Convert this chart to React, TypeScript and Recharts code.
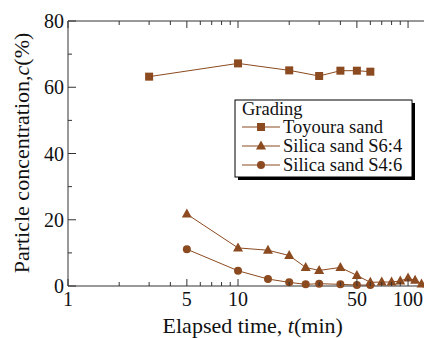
import React from 'react';
import { LineChart, Line, XAxis, YAxis } from 'recharts';

const toyouraTime = [3, 10, 20, 30, 40, 50, 60];
const toyouraConc = [63.2, 67.2, 65.1, 63.4, 65.0, 65.0, 64.7];
const s64Time = [5, 10, 15, 20, 25, 30, 40, 50, 60, 70, 80, 90, 100, 110, 120, 130];
const s64Conc = [21.7, 11.5, 10.8, 9.2, 5.6, 4.7, 5.6, 3.2, 1.1, 1.2, 1.2, 1.5, 2.4, 1.7, 0.6, 0.6];
const s46Time = [5, 10, 15, 20, 25, 30, 40, 50, 60];
const s46Conc = [11.1, 4.6, 2.1, 1.1, 0.5, 0.7, 0.5, 0.3, 0.3];

const xTicks = [1, 2, 3, 4, 5, 6, 7, 8, 9, 10, 20, 30, 40, 50, 60, 70, 80, 90, 100];
const xLabels = [1, 5, 10, 50, 100];
const yTicks = [0, 10, 20, 30, 40, 50, 60, 70, 80];
const yLabels = [0, 20, 40, 60, 80];

const seriesNames = ['Toyoura sand', 'Silica sand S6:4', 'Silica sand S4:6'];

const toyoura = toyouraTime.map((t, i) => ({ t, c: toyouraConc[i] }));
const s64 = s64Time.map((t, i) => ({ t, c: s64Conc[i] }));
const s46 = s46Time.map((t, i) => ({ t, c: s46Conc[i] }));

const BROWN = '#8B4A1F';
const AXIS = '#333';
const FONT = "'Liberation Serif', 'Times New Roman', serif";
const serif = (size: number) => ({ fontFamily: FONT, fontSize: size });

const W = 440;
const H = 330;
const M = { top: 12, left: 59, right: 9, bottom: 51 };

const BottomTick = (p: any) => {
  const v = p.payload.value;
  const lab = xLabels.includes(v);
  return (
    <g>
      <line x1={p.x} x2={p.x} y1={p.y} y2={p.y - (lab ? 7 : 4)} stroke={AXIS} strokeWidth={1} />
      {lab && (
        <text x={p.x} y={p.y + 20} textAnchor="middle" style={serif(20)} fill="#111">
          {v}
        </text>
      )}
    </g>
  );
};

const TopTick = (p: any) => {
  const v = p.payload.value;
  const lab = xLabels.includes(v);
  return <line x1={p.x} x2={p.x} y1={p.y} y2={p.y + (lab ? 7 : 4)} stroke={AXIS} strokeWidth={1} />;
};

const LeftTick = (p: any) => {
  const v = p.payload.value;
  const lab = yLabels.includes(v);
  return (
    <g>
      <line x1={p.x} x2={p.x + (lab ? 8 : 4)} y1={p.y} y2={p.y} stroke={AXIS} strokeWidth={1} />
      {lab && (
        <text x={p.x - 4} y={p.y} dy="0.35em" textAnchor="end" style={serif(20)} fill="#111">
          {v}
        </text>
      )}
    </g>
  );
};

const RightTick = (p: any) => {
  const v = p.payload.value;
  const lab = yLabels.includes(v);
  return <line x1={p.x} x2={p.x - (lab ? 8 : 4)} y1={p.y} y2={p.y} stroke={AXIS} strokeWidth={1} />;
};

const SquareDot = (p: any) =>
  p.cx == null ? <g key={p.index} /> : (
    <rect key={p.index} x={p.cx - 4} y={p.cy - 4} width={8} height={8} fill={BROWN} />
  );
const TriDot = (p: any) =>
  p.cx == null ? <g key={p.index} /> : (
    <path key={p.index} d={`M${p.cx},${p.cy - 5.5} L${p.cx + 5},${p.cy + 3.5} L${p.cx - 5},${p.cy + 3.5} Z`} fill={BROWN} />
  );
const CircleDot = (p: any) =>
  p.cx == null ? <g key={p.index} /> : <circle key={p.index} cx={p.cx} cy={p.cy} r={4} fill={BROWN} />;

const legendMarker = (i: number, cx: number, cy: number) => {
  if (i === 0) return <rect x={cx - 4} y={cy - 4} width={8} height={8} fill={BROWN} />;
  if (i === 1) return <path d={`M${cx},${cy - 5.5} L${cx + 5},${cy + 3.5} L${cx - 5},${cy + 3.5} Z`} fill={BROWN} />;
  return <circle cx={cx} cy={cy} r={4} fill={BROWN} />;
};

export default function App() {
  const lx = 227;
  const ly = 92;
  const lw = 177;
  const lh = 77;
  return (
    <div style={{ position: 'relative', width: 424, height: H, overflow: 'hidden' }}>
      <LineChart width={W} height={H} margin={M}>
        <XAxis
          dataKey="t"
          type="number"
          scale="log"
          domain={[1, 150]}
          allowDataOverflow
          ticks={xTicks}
          interval={0}
          height={1}
          tickSize={0}
          tickMargin={0}
          tickLine={false}
          tick={BottomTick}
          axisLine={{ stroke: AXIS, strokeWidth: 1 }}
        />
        <XAxis
          xAxisId="top"
          orientation="top"
          dataKey="t"
          type="number"
          scale="log"
          domain={[1, 150]}
          allowDataOverflow
          ticks={xTicks}
          interval={0}
          height={1}
          tickSize={0}
          tickMargin={0}
          tickLine={false}
          tick={TopTick}
          axisLine={{ stroke: AXIS, strokeWidth: 1 }}
        />
        <YAxis
          type="number"
          domain={[0, 80]}
          ticks={yTicks}
          interval={0}
          width={1}
          tickSize={0}
          tickMargin={0}
          tickLine={false}
          tick={LeftTick}
          axisLine={{ stroke: AXIS, strokeWidth: 1 }}
        />
        <YAxis
          yAxisId="right"
          orientation="right"
          type="number"
          domain={[0, 80]}
          ticks={yTicks}
          interval={0}
          width={1}
          tickSize={0}
          tickMargin={0}
          tickLine={false}
          tick={RightTick}
          axisLine={{ stroke: AXIS, strokeWidth: 1 }}
        />
        <Line data={s46} dataKey="c" type="linear" stroke={BROWN} strokeWidth={1} dot={CircleDot} activeDot={false} isAnimationActive={false} />
        <Line data={s64} dataKey="c" type="linear" stroke={BROWN} strokeWidth={1} dot={TriDot} activeDot={false} isAnimationActive={false} />
        <Line data={toyoura} dataKey="c" type="linear" stroke={BROWN} strokeWidth={1} dot={SquareDot} activeDot={false} isAnimationActive={false} />
      </LineChart>
      <svg width={W} height={H} style={{ position: 'absolute', left: 0, top: 0, pointerEvents: 'none' }}>
        <text x={244.7} y={325} textAnchor="middle" style={serif(22)} fill="#111">
          Elapsed time, <tspan fontStyle="italic">t</tspan>(min)
        </text>
        <text transform="translate(21,145) rotate(-90)" x={0} y={0} textAnchor="middle" style={serif(22)} fill="#111">
          Particle concentration,<tspan fontStyle="italic">c</tspan>(%)
        </text>
        <rect x={lx + 3} y={ly + 3} width={lw} height={lh} fill="#000" />
        <rect x={lx} y={ly} width={lw} height={lh} fill="#fff" stroke="#000" strokeWidth={1} />
        <text x={lx + 7} y={ly + 15} style={serif(18.5)} fill="#111">Grading</text>
        {seriesNames.map((n, i) => {
          const cy = ly + 27 + i * 19;
          return (
            <g key={n}>
              <line x1={lx + 7} x2={lx + 45} y1={cy} y2={cy} stroke={BROWN} strokeWidth={1} />
              {legendMarker(i, lx + 26, cy)}
              <text x={lx + 48} y={cy + 6} style={serif(18.5)} fill="#111">{n}</text>
            </g>
          );
        })}
      </svg>
    </div>
  );
}
